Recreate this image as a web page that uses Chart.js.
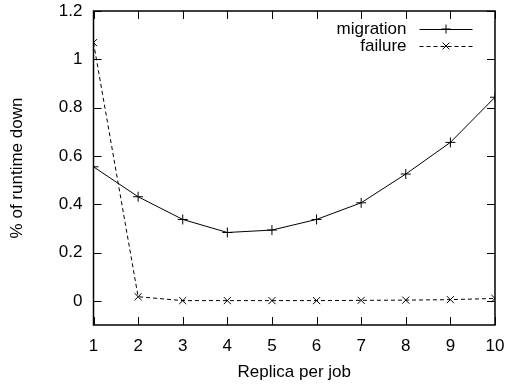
<!DOCTYPE html>
<html>
<head>
<meta charset="utf-8">
<script src="https://cdn.jsdelivr.net/npm/chart.js@4"></script>
<style>
  html, body { margin: 0; padding: 0; background: #fff; }
  #wrap { width: 509px; height: 387px; }
</style>
</head>
<body>
<div id="wrap"><canvas id="chart" width="509" height="387"></canvas></div>
<script>
const replicas = [1, 2, 3, 4, 5, 6, 7, 8, 9, 10];
const migration = [0.555, 0.431, 0.337, 0.283, 0.293, 0.337, 0.406, 0.525, 0.656, 0.843];
const failure = [1.069, 0.017, 0.001, 0.001, 0.001, 0.001, 0.002, 0.003, 0.005, 0.010];
const xTicks = [1, 2, 3, 4, 5, 6, 7, 8, 9, 10];
const yTicks = [0, 0.2, 0.4, 0.6, 0.8, 1, 1.2];

const FONT = "'Liberation Sans', Arial, sans-serif";
const FSIZE = 17;

// gnuplot-style frame: box + inward ticks on all four sides + legend
const gnuplotFrame = {
  id: "gnuplotFrame",
  afterDraw(chart) {
    const { ctx, chartArea: a, scales } = chart;
    const tl = 8;
    ctx.save();
    ctx.strokeStyle = "#000";
    ctx.lineWidth = 1;
    ctx.beginPath();
    xTicks.forEach(v => {
      const x = Math.round(scales.x.getPixelForValue(v)) + 0.5;
      ctx.moveTo(x, a.bottom); ctx.lineTo(x, a.bottom - tl);
      ctx.moveTo(x, a.top); ctx.lineTo(x, a.top + tl);
    });
    yTicks.forEach(v => {
      const y = Math.round(scales.y.getPixelForValue(v)) + 0.5;
      ctx.moveTo(a.left, y); ctx.lineTo(a.left + tl, y);
      ctx.moveTo(a.right, y); ctx.lineTo(a.right - tl, y);
    });
    ctx.stroke();
    ctx.lineWidth = 1.5;
    ctx.strokeRect(a.left, a.top, a.right - a.left, a.bottom - a.top);

    // legend
    ctx.font = FSIZE + "px " + FONT;
    ctx.fillStyle = "#000";
    ctx.textAlign = "right";
    ctx.textBaseline = "middle";
    const items = [
      { label: "migration", dash: [], style: "plus" },
      { label: "failure", dash: [4, 3], style: "x" }
    ];
    items.forEach((it, i) => {
      const y = a.top + 18 + i * 17;
      ctx.fillText(it.label, a.left + 313, y);
      ctx.lineWidth = 1;
      ctx.setLineDash(it.dash);
      ctx.beginPath();
      ctx.moveTo(a.left + 326, y + 0.5);
      ctx.lineTo(a.left + 379, y + 0.5);
      ctx.stroke();
      ctx.setLineDash([]);
      const cx = a.left + 352.5, r = 4.5;
      ctx.beginPath();
      if (it.style === "plus") {
        ctx.moveTo(cx - r, y); ctx.lineTo(cx + r, y);
        ctx.moveTo(cx, y - r); ctx.lineTo(cx, y + r);
      } else {
        const d = r * 0.75;
        ctx.moveTo(cx - d, y - d); ctx.lineTo(cx + d, y + d);
        ctx.moveTo(cx - d, y + d); ctx.lineTo(cx + d, y - d);
      }
      ctx.stroke();
    });
    ctx.restore();
  }
};

new Chart(document.getElementById("chart"), {
  type: "line",
  data: {
    datasets: [
      {
        label: "migration",
        data: replicas.map((x, i) => ({ x, y: migration[i] })),
        borderColor: "#000",
        borderWidth: 1,
        pointStyle: "cross",
        pointRadius: 5,
        pointBorderColor: "#000",
        pointBorderWidth: 1,
        fill: false,
        tension: 0
      },
      {
        label: "failure",
        data: replicas.map((x, i) => ({ x, y: failure[i] })),
        borderColor: "#000",
        borderWidth: 1,
        borderDash: [4, 3],
        pointStyle: "crossRot",
        pointRadius: 5,
        pointBorderColor: "#000",
        pointBorderWidth: 1,
        fill: false,
        tension: 0
      }
    ]
  },
  options: {
    responsive: false,
    animation: false,
    events: [],
    layout: { padding: { top: 11, right: 14, left: 0, bottom: 0 } },
    plugins: { legend: { display: false }, tooltip: { enabled: false } },
    scales: {
      x: {
        type: "linear",
        min: 1,
        max: 10,
        afterBuildTicks: s => { s.ticks = xTicks.map(v => ({ value: v })); },
        afterFit: s => { s.height = 62; s.paddingLeft = 0; s.paddingRight = 0; },
        grid: { display: false, drawTicks: false },
        border: { display: false },
        ticks: { color: "#000", font: { family: FONT, size: FSIZE }, padding: 11, maxRotation: 0 },
        title: { display: true, text: "Replica per job", color: "#000", font: { family: FONT, size: FSIZE }, padding: { top: 5 } }
      },
      y: {
        min: -0.1,
        max: 1.2,
        afterBuildTicks: s => { s.ticks = yTicks.map(v => ({ value: v })); },
        afterFit: s => { s.width = 93.5; s.paddingTop = 0; s.paddingBottom = 0; },
        grid: { display: false, drawTicks: false },
        border: { display: false },
        ticks: { color: "#000", font: { family: FONT, size: FSIZE }, padding: 11, callback: v => String(v) },
        title: { display: true, text: "% of runtime down", color: "#000", font: { family: FONT, size: FSIZE }, padding: { top: 7 } }
      }
    }
  },
  plugins: [gnuplotFrame]
});
</script>
</body>
</html>
